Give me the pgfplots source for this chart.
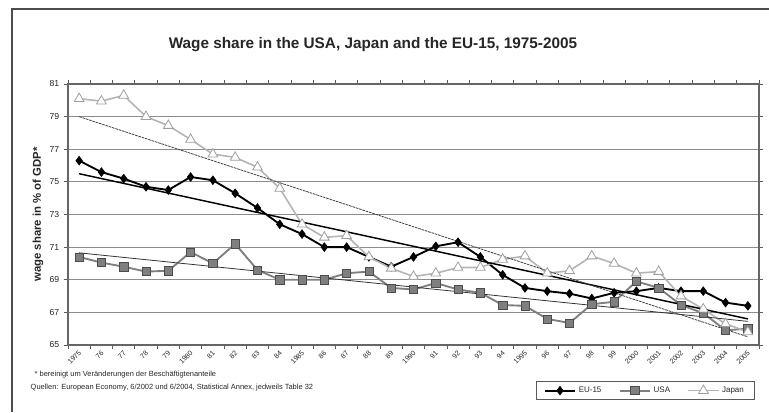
\documentclass[border=0pt]{standalone}
\usepackage{fontspec}
\setmainfont{Liberation Sans}
\usepackage{pgfplots}
\usepackage{pgfplotstable}
\pgfplotsset{compat=1.18}
\definecolor{gridc}{HTML}{8C8C8C}
\definecolor{usac}{HTML}{7F7F7F}
\definecolor{japc}{HTML}{B4B4B4}
\definecolor{txtc}{HTML}{262626}

\pgfplotstableread{
i  eu     usa    jap
0  76.3   70.4   80.1
1  75.6   70.05  79.95
2  75.2   69.8   80.3
3  74.7   69.5   79.0
4  74.5   69.55  78.45
5  75.3   70.7   77.6
6  75.1   70.0   76.7
7  74.3   71.2   76.5
8  73.4   69.6   75.9
9  72.4   69.0   74.6
10 71.8   69.0   72.4
11 71.0   69.0   71.6
12 71.0   69.4   71.7
13 70.4   69.5   70.4
14 69.8   68.5   69.7
15 70.4   68.4   69.2
16 71.05  68.8   69.4
17 71.3   68.4   69.75
18 70.4   68.2   69.75
19 69.3   67.45  70.25
20 68.5   67.4   70.45
21 68.3   66.6   69.4
22 68.15  66.35  69.55
23 67.85  67.5   70.45
24 68.2   67.65  70.0
25 68.3   68.9   69.4
26 68.5   68.5   69.5
27 68.3   67.45  68.0
28 68.3   66.95  67.2
29 67.6   65.9   66.3
30 67.4   66.0   65.8
}\wagedata

\begin{document}
\begin{tikzpicture}
\useasboundingbox (0,0) rectangle (576.75pt,309pt);
% outer frame (partly cropped)
\draw[color=gray!60!black, line width=0.9pt] (9pt,0pt) -- (9pt,302.25pt) -- (576.75pt,302.25pt);
% title
\node[font=\bfseries\fontsize{11.5}{13}\selectfont, text=txtc] at (279.75pt,275.25pt) {Wage share in the USA, Japan and the EU-15, 1975-2005};
\begin{axis}[
  at={(51pt,50.25pt)}, anchor=south west,
  scale only axis, width=518.25pt, height=195.75pt,
  xmin=-0.5, xmax=30.5, ymin=65, ymax=81,
  ytick={65,67,...,81},
  xtick={-0.5,0.5,...,30.5},
  x tick label as interval,
  xticklabels={1975,76,77,78,79,1980,81,82,83,84,1985,86,87,88,89,1990,91,92,93,94,1995,96,97,98,99,2000,2001,2002,2003,2004,2005},
  xticklabel style={rotate=45, anchor=east, font=\fontsize{5.3}{6}\selectfont, text=txtc, xshift=2.5pt, yshift=-2pt},
  yticklabel style={font=\fontsize{6.5}{7}\selectfont, text=txtc},
  /pgf/number format/assume math mode=true,
  tick align=outside, major tick length=3pt,
  tick style={color=gray!70!black, line width=0.6pt},
  ymajorgrids, grid style={color=gridc, line width=0.8pt},
  axis line style={color=gray!80!black, line width=0.8pt},
  ylabel={wage share in \% of GDP*},
  ylabel style={font=\bfseries\fontsize{8.5}{10}\selectfont, text=txtc, at={(axis description cs:-0.0434,0.5)}, anchor=center},
  legend columns=3,
  legend style={at={(axis description cs:0.994,-0.211)}, anchor=south east, draw=gray!70!black, line width=0.5pt, font=\fontsize{6}{7}\selectfont, text=txtc, inner xsep=6pt, inner ysep=2pt, row sep=0pt, /tikz/every even column/.append style={column sep=11pt}},
  legend image code/.code={\draw[mark repeat=2, mark phase=2] plot coordinates {(0cm,0cm) (0.4cm,0cm) (0.8cm,0cm)};},
  clip=false,
]
\addplot[color=black, line width=1.4pt, mark=diamond*, mark size=3.3pt, mark options={fill=black, draw=black, line width=0.4pt}] table[x=i, y=eu] {\wagedata};
\addlegendentry{EU-15}
\addplot[color=usac, line width=1.4pt, mark=square*, mark size=3.1pt, mark options={fill=usac, draw=gray!60!black, line width=0.4pt}] table[x=i, y=usa] {\wagedata};
\addlegendentry{USA}
\addplot[color=japc, line width=1.2pt, mark=triangle*, mark size=4.2pt, mark options={fill=white, draw=gray!75, line width=0.6pt}] table[x=i, y=jap] {\wagedata};
\addlegendentry{Japan}
% linear trend lines
\addplot[forget plot, color=black, line width=1.1pt] coordinates {(0,75.5) (30,66.6)};
\addplot[forget plot, color=gray!40!black, line width=0.6pt] coordinates {(0,70.65) (30,66.45)};
\addplot[forget plot, color=gray!50!black, line width=0.6pt, dash pattern=on 2pt off 0.6pt] coordinates {(0,79.0) (30,65.5)};
\end{axis}
\node[anchor=west, font=\fontsize{5.6}{6}\selectfont, text=txtc] at (22.5pt,27.75pt) {* bereinigt um Veränderungen der Beschäftigtenanteile};
\node[anchor=west, font=\fontsize{5.6}{6}\selectfont, text=txtc] at (19.5pt,18pt) {Quellen: European Economy, 6/2002 und 6/2004, Statistical Annex, jedweils Table 32};
\end{tikzpicture}
\end{document}
